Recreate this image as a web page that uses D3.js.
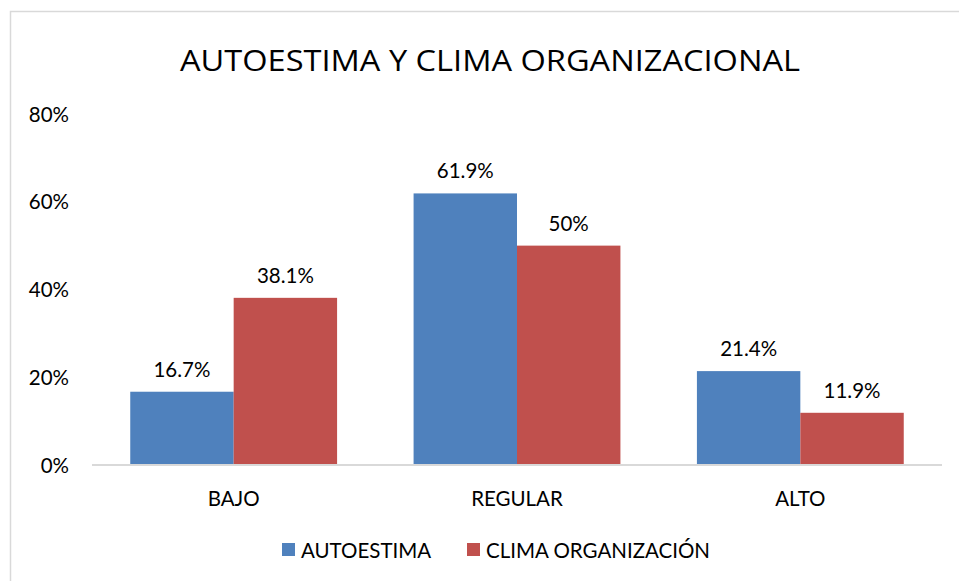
<!DOCTYPE html>
<html><head><meta charset="utf-8">
<script src="https://cdn.jsdelivr.net/npm/d3@7"></script>
<style>body{margin:0;background:#fff}svg{display:block}</style>
</head><body>
<svg id="c" width="959" height="581"></svg>
<script>
const categories = ["BAJO", "REGULAR", "ALTO"];
const seriesNames = ["AUTOESTIMA", "CLIMA ORGANIZACIÓN"];
const autoestima = [16.7, 61.9, 21.4];
const clima = [38.1, 50, 11.9];
const labelsAutoestima = ["16.7%", "61.9%", "21.4%"];
const labelsClima = ["38.1%", "50%", "11.9%"];
const yTicks = [0, 20, 40, 60, 80];
const colors = ["#4F81BD", "#C0504D"];

(function () {
const font = "Lato, 'Open Sans', sans-serif";
const fs = 20.5;
const svg = d3.select("#c");
svg.append("rect").attr("x", 10.5).attr("y", 11.5).attr("width", 1000).attr("height", 1000)
  .attr("fill", "#fff").attr("stroke", "#D9D9D9").attr("stroke-width", 1.5);

const pl = 92, pr = 942, pt = 114, pb = 465;
const x = d3.scaleBand().domain(categories).range([pl, pr]).paddingInner(0.27).paddingOuter(0.135);
const xs = d3.scaleBand().domain([0, 1]).range([0, x.bandwidth()]);
const y = d3.scaleLinear().domain([0, 80]).range([pb, pt]);

svg.append("text").attr("x", 490).attr("y", 71).attr("text-anchor", "middle")
  .attr("font-family", "'Open Sans', Roboto, sans-serif").attr("font-weight", 400).attr("font-size", 30).attr("fill", "#000")
  .attr("textLength", 620).attr("lengthAdjust", "spacingAndGlyphs")
  .text("AUTOESTIMA Y CLIMA ORGANIZACIONAL");

const yAxis = d3.axisLeft(y).tickValues(yTicks).tickFormat(d => d + "%").tickSize(0).tickPadding(0);
const gy = svg.append("g").attr("transform", `translate(${69},0)`).call(yAxis);
gy.select(".domain").remove();
gy.selectAll("text").attr("font-family", font).attr("font-size", fs).attr("fill", "#000").attr("dy", "0.35em");

const data = categories.map((c, i) => ({c, v: [autoestima[i], clima[i]], l: [labelsAutoestima[i], labelsClima[i]]}));
const g = svg.append("g");
data.forEach(d => {
  d.v.forEach((v, s) => {
    const bx = x(d.c) + xs(s);
    g.append("rect").attr("x", bx).attr("y", y(v)).attr("width", xs.bandwidth())
      .attr("height", y(0) - y(v)).attr("fill", colors[s]);
    g.append("text").attr("x", bx + xs.bandwidth() / 2).attr("y", y(v) - 15)
      .attr("text-anchor", "middle").attr("font-family", font).attr("font-size", fs)
      .attr("fill", "#000").text(d.l[s]);
  });
});

const xAxis = d3.axisBottom(x).tickSize(0).tickPadding(0);
const gx = svg.append("g").attr("transform", `translate(0,${pb})`).call(xAxis);
gx.select(".domain").attr("stroke", "#D9D9D9").attr("stroke-width", 2).attr("d", `M${pl},0H${pr}`);
gx.selectAll("text").attr("font-family", font).attr("font-size", fs).attr("fill", "#000").attr("y", 41).attr("dy", 0);

const legX = [282, 467];
seriesNames.forEach((n, i) => {
  svg.append("rect").attr("x", legX[i]).attr("y", 543).attr("width", 13).attr("height", 13).attr("fill", colors[i]);
  svg.append("text").attr("x", legX[i] + 19).attr("y", 558).attr("font-family", font)
    .attr("font-size", fs).attr("fill", "#000").text(n);
});
})();
</script>
</body></html>
